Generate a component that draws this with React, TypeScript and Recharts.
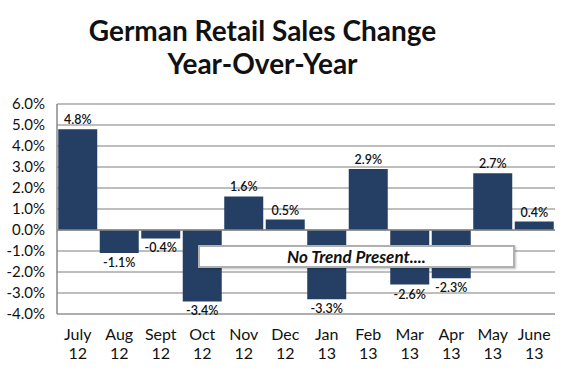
import React from 'react';
import { BarChart, Bar, XAxis, YAxis, CartesianGrid, ReferenceLine, LabelList } from 'recharts';

const months = ['July', 'Aug', 'Sept', 'Oct', 'Nov', 'Dec', 'Jan', 'Feb', 'Mar', 'Apr', 'May', 'June'];
const years = ['12', '12', '12', '12', '12', '12', '13', '13', '13', '13', '13', '13'];
const changes = [4.8, -1.1, -0.4, -3.4, 1.6, 0.5, -3.3, 2.9, -2.6, -2.3, 2.7, 0.4];
const yTicks = [-4, -3, -2, -1, 0, 1, 2, 3, 4, 5, 6];

const FONT = 'Lato, "DejaVu Sans", sans-serif';
const NAVY = '#243f63';

const chartData = months.map((m, i) => ({ key: `${m} ${years[i]}`, month: m, year: years[i], value: changes[i] }));

const MonthTick = (props: any) => {
  const { x, y, index } = props;
  const d = chartData[index];
  if (!d) return null;
  return (
    <g>
      <text x={x} y={y + 18} textAnchor="middle" fontSize={16} fontFamily={FONT} fill="#111">
        {d.month}
      </text>
      <text x={x} y={y + 37} textAnchor="middle" fontSize={16} fontFamily={FONT} fill="#111">
        {d.year}
      </text>
    </g>
  );
};

const ValueLabel = (props: any) => {
  const { x, y, width, height, value } = props;
  const neg = value < 0;
  const cx = x + width / 2;
  const bottom = Math.max(y, y + height);
  const top = Math.min(y, y + height);
  const ly = neg ? bottom + 14 : top - 5;
  return (
    <text x={cx} y={ly} textAnchor="middle" fontSize={12.5} fontWeight={600} fontFamily={FONT} fill="#111">
      {`${value.toFixed(1)}%`}
    </text>
  );
};

export default function App() {
  return (
    <div style={{ position: 'absolute', left: 0, top: 0, width: 570, height: 370, background: '#fff' }}>
      <div
        style={{
          position: 'absolute',
          left: 0,
          top: 14,
          width: 525,
          textAlign: 'center',
          fontFamily: FONT,
          fontWeight: 700,
          fontSize: 28,
          lineHeight: '33px',
          color: '#111',
        }}
      >
        German Retail Sales Change
        <br />
        Year-Over-Year
      </div>
      <BarChart
        width={570}
        height={370}
        data={chartData}
        margin={{ top: 104, right: 15, left: 0, bottom: 0 }}
        barCategoryGap="3%"
      >
        <CartesianGrid vertical={false} stroke="#a8a8a8" strokeWidth={1.5} />
        <XAxis
          dataKey="key"
          height={56}
          axisLine={{ stroke: '#a8a8a8', strokeWidth: 1.5 }}
          tickLine={false}
          tick={<MonthTick />}
          interval={0}
        />
        <YAxis
          domain={[-4, 6]}
          ticks={yTicks}
          width={57}
          axisLine={{ stroke: '#888', strokeWidth: 1.5 }}
          tickLine={false}
          tickSize={0}
          tickMargin={12}
          tickFormatter={(v: number) => `${v.toFixed(1)}%`}
          tick={{ fontSize: 15, fontFamily: FONT, fill: '#111' }}
          interval={0}
        />
        <ReferenceLine y={0} stroke="#888" strokeWidth={1.5} />
        <Bar dataKey="value" fill={NAVY} isAnimationActive={false}>
          <LabelList dataKey="value" content={<ValueLabel />} />
        </Bar>
      </BarChart>
      <div
        style={{
          position: 'absolute',
          left: 198,
          top: 245,
          width: 313,
          height: 19,
          background: '#fff',
          border: '2px solid #b0b0b0',
          boxShadow: '1px 1px 2px rgba(0,0,0,0.25)',
          fontFamily: FONT,
          fontStyle: 'italic',
          fontWeight: 700,
          fontSize: 17,
          lineHeight: '19px',
          textAlign: 'center',
          color: '#111',
        }}
      >
        No Trend Present....
      </div>
    </div>
  );
}
